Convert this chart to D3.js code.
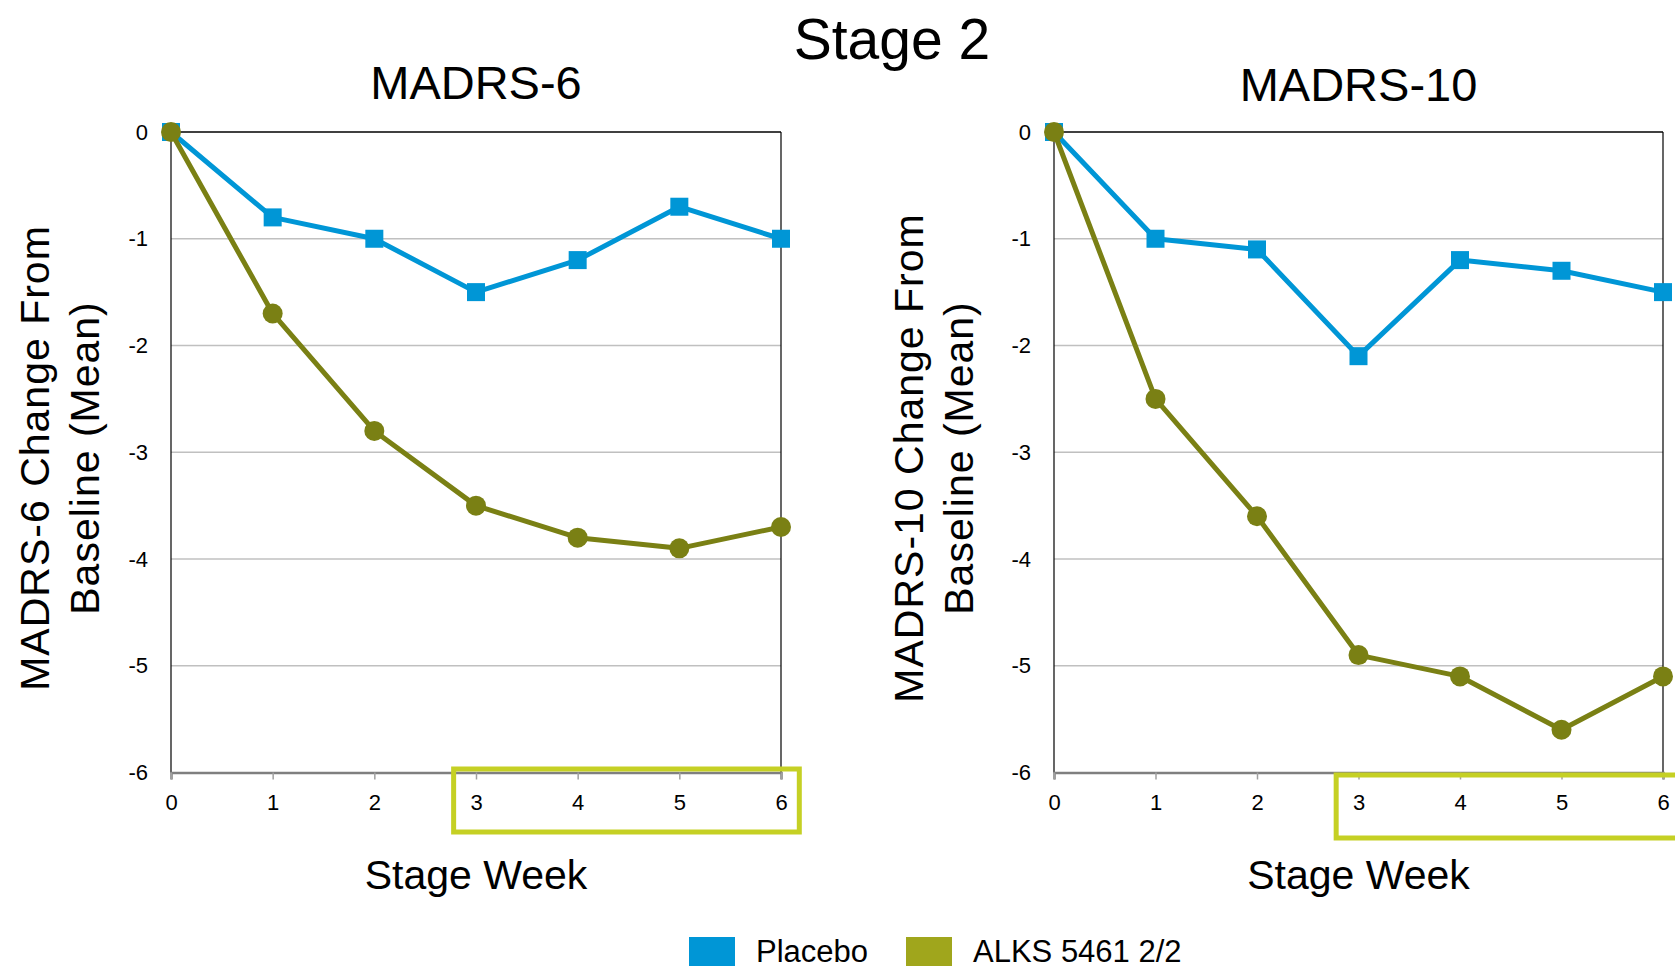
<!DOCTYPE html>
<html>
<head>
  <meta charset="utf-8">
  <script src="https://cdn.jsdelivr.net/npm/d3@7"></script>
  <style>
    body { margin: 0; background: #fff; }
    text { font-family: "Liberation Sans", Arial, sans-serif; fill: #000; }
    .grid line { stroke: #c0c0c0; stroke-width: 1.5px; }
  </style>
</head>
<body>
<script>
var width = 1675,
    height = 969;

// data
var weeks = [0, 1, 2, 3, 4, 5, 6];
var yTicks = [0, -1, -2, -3, -4, -5, -6];
var seriesNames = ["Placebo", "ALKS 5461 2/2"];

var madrs6Placebo = [0, -0.8, -1.0, -1.5, -1.2, -0.7, -1.0];
var madrs6Alks = [0, -1.7, -2.8, -3.5, -3.8, -3.9, -3.7];
var madrs10Placebo = [0, -1.0, -1.1, -2.1, -1.2, -1.3, -1.5];
var madrs10Alks = [0, -2.5, -3.6, -4.9, -5.1, -5.6, -5.1];

var blue = "#0096d6",
    olive = "#7a8014",
    oliveLegend = "#a0a61c",
    highlight = "#c5d024";

// plain hyphen labels like the original
var plainFormat = function(d) { return String(d); };

var svg = d3.select("body").append("svg")
    .attr("width", width)
    .attr("height", height);

svg.append("text")
    .attr("x", 892)
    .attr("y", 59)
    .attr("text-anchor", "middle")
    .style("font-size", "57px")
    .text("Stage 2");

var panels = [
  { title: "MADRS-6", label1: "MADRS-6 Change From", placebo: madrs6Placebo, alks: madrs6Alks,
    x0: 171, x1: 781, tickRight: 148, lab1: 49, lab2: 99, titleY: 99, boxTop: 769, boxBottom: 832 },
  { title: "MADRS-10", label1: "MADRS-10 Change From", placebo: madrs10Placebo, alks: madrs10Alks,
    x0: 1054, x1: 1663, tickRight: 1031, lab1: 923, lab2: 973, titleY: 101, boxTop: 775, boxBottom: 838 }
];

panels.forEach(function(p) {
  var x = d3.scaleLinear().domain([0, 6]).range([p.x0, p.x1]);
  var y = d3.scaleLinear().domain([0, -6]).range([132, 772.5]);
  var g = svg.append("g");

  // gridlines
  g.append("g").attr("class", "grid")
    .selectAll("line")
    .data(yTicks.slice(1, 6))
    .enter().append("line")
    .attr("x1", p.x0).attr("x2", p.x1)
    .attr("y1", function(d) { return y(d); })
    .attr("y2", function(d) { return y(d); });

  // frame
  g.append("line").attr("x1", p.x0).attr("x2", p.x1).attr("y1", y(0)).attr("y2", y(0))
    .attr("stroke", "#000").attr("stroke-width", 1.5);
  g.append("line").attr("x1", p.x0).attr("x2", p.x0).attr("y1", y(0)).attr("y2", y(-6))
    .attr("stroke", "#000").attr("stroke-width", 1.2);
  g.append("line").attr("x1", p.x1).attr("x2", p.x1).attr("y1", y(0)).attr("y2", y(-6))
    .attr("stroke", "#000").attr("stroke-width", 1.2);

  // x axis
  var xAxis = d3.axisBottom(x).tickValues(weeks).tickSize(7).tickPadding(15).tickFormat(plainFormat);
  var xa = g.append("g")
    .attr("transform", "translate(0," + y(-6) + ")")
    .call(xAxis);
  xa.select(".domain").attr("stroke", "#7f7f7f").attr("stroke-width", 2.5);
  xa.selectAll(".tick line").attr("stroke", "#a0a0a0").attr("stroke-width", 1.5);
  xa.selectAll("text").style("font-size", "22px").attr("fill", "#000")
    .style("font-family", "'Liberation Sans', Arial, sans-serif");

  // y tick labels
  var ya = g.append("g")
    .attr("transform", "translate(" + (p.tickRight + 4) + ",0)")
    .call(d3.axisLeft(y).tickValues(yTicks).tickSize(0).tickPadding(4).tickFormat(plainFormat));
  ya.select(".domain").remove();
  ya.selectAll("text").style("font-size", "22px").attr("fill", "#000")
    .style("font-family", "'Liberation Sans', Arial, sans-serif");

  // highlight box around weeks 3-6
  g.append("rect")
    .attr("x", x(2.78))
    .attr("y", p.boxTop)
    .attr("width", x(6.18) - x(2.78))
    .attr("height", p.boxBottom - p.boxTop)
    .attr("fill", "none")
    .attr("stroke", highlight)
    .attr("stroke-width", 5);

  var line = d3.line()
    .x(function(d, i) { return x(weeks[i]); })
    .y(function(d) { return y(d); });

  // placebo
  g.append("path").datum(p.placebo)
    .attr("d", line).attr("fill", "none")
    .attr("stroke", blue).attr("stroke-width", 5).attr("stroke-linejoin", "round");
  g.selectAll(".sq").data(p.placebo).enter().append("rect")
    .attr("x", function(d, i) { return x(weeks[i]) - 9; })
    .attr("y", function(d) { return y(d) - 9; })
    .attr("width", 18).attr("height", 18)
    .attr("fill", blue);

  // ALKS 5461
  g.append("path").datum(p.alks)
    .attr("d", line).attr("fill", "none")
    .attr("stroke", olive).attr("stroke-width", 5).attr("stroke-linejoin", "round");
  g.selectAll(".dot").data(p.alks).enter().append("circle")
    .attr("cx", function(d, i) { return x(weeks[i]); })
    .attr("cy", function(d) { return y(d); })
    .attr("r", 10)
    .attr("fill", olive);

  // titles
  var cx = (p.x0 + p.x1) / 2;
  svg.append("text").attr("x", cx).attr("y", p.titleY)
    .attr("text-anchor", "middle").style("font-size", "47px").text(p.title);
  svg.append("text").attr("x", cx).attr("y", 889)
    .attr("text-anchor", "middle").style("font-size", "41px").text("Stage Week");

  var cy = 458;
  svg.append("text")
    .attr("transform", "translate(" + p.lab1 + "," + cy + ") rotate(-90)")
    .attr("text-anchor", "middle").style("font-size", "41px")
    .style("letter-spacing", "1px")
    .text(p.label1);
  svg.append("text")
    .attr("transform", "translate(" + p.lab2 + "," + cy + ") rotate(-90)")
    .attr("text-anchor", "middle").style("font-size", "41px")
    .style("letter-spacing", "1px")
    .text("Baseline (Mean)");
});

// legend
var legendX = [689, 906];
var legendColors = [blue, oliveLegend];
var legend = svg.append("g");
seriesNames.forEach(function(name, i) {
  legend.append("rect")
    .attr("x", legendX[i]).attr("y", 937)
    .attr("width", 46).attr("height", 29)
    .attr("fill", legendColors[i]);
  legend.append("text")
    .attr("x", legendX[i] + 67).attr("y", 962)
    .style("font-size", "31px")
    .text(name);
});
</script>
</body>
</html>
